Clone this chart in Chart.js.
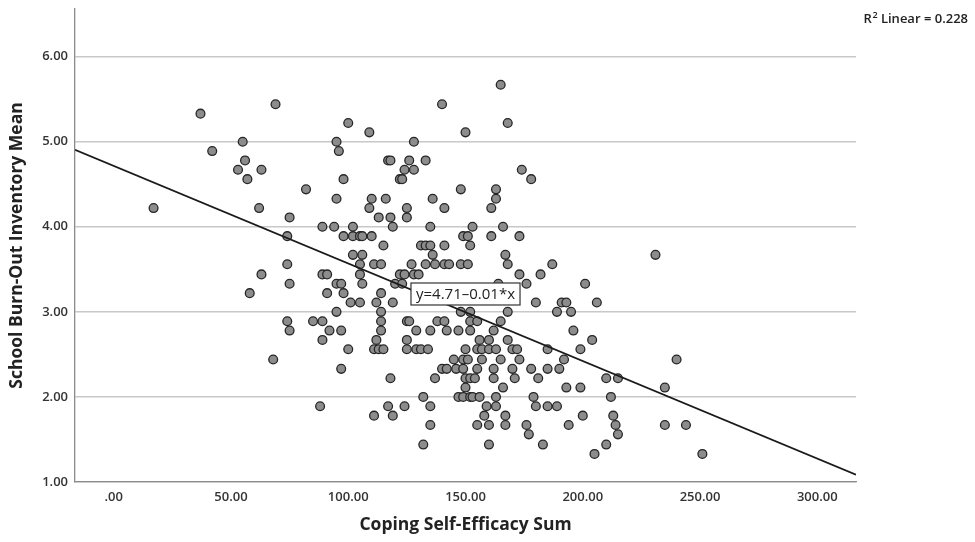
<!DOCTYPE html>
<html>
<head>
<meta charset="utf-8">
<script src="https://cdn.jsdelivr.net/npm/chart.js@4.4.1/dist/chart.umd.min.js"></script>
<style>
  html, body { margin: 0; padding: 0; background: #fff; }
  #wrap { width: 975px; height: 542px; }
</style>
</head>
<body>
<div id="wrap"><canvas id="chart"></canvas></div>
<script>
// burn-out mean levels (steps of 1/9) and the coping sums read at each level
const burnoutLevels = [5.67, 5.44, 5.33, 5.22, 5.11, 5.00, 4.89, 4.78, 4.67, 4.56, 4.44, 4.33, 4.22, 4.11, 4.00,
    3.89, 3.78, 3.67, 3.56, 3.44, 3.33, 3.22, 3.11, 3.00, 2.89, 2.78, 2.67, 2.56, 2.44, 2.33, 2.22, 2.11, 2.00,
    1.89, 1.78, 1.67, 1.56, 1.44, 1.33];
const copingByLevel = [
    [165],
    [69, 140],
    [37],
    [100, 168],
    [109, 150],
    [55, 95, 128],
    [42, 96],
    [56, 117, 118, 126, 133],
    [53, 63, 124, 128, 174],
    [57, 98, 122, 123, 178],
    [82, 148, 163],
    [95, 110, 116, 136, 163],
    [17, 62, 109, 125, 141, 161],
    [75, 113, 118, 125],
    [89, 94, 102, 119, 135, 153, 166],
    [74, 98, 102, 105, 106, 110, 149, 151, 161, 173],
    [115, 131, 133, 135, 141, 152],
    [102, 106, 136, 167, 231],
    [74, 105, 111, 114, 127, 133, 137, 141, 143, 148, 151, 168, 187],
    [63, 89, 91, 105, 122, 124, 128, 130, 173, 182],
    [75, 95, 97, 106, 120, 123, 164, 176, 201],
    [58, 91, 98, 114],
    [101, 105, 112, 119, 180, 191, 193, 206],
    [95, 114, 148, 152, 168, 189, 195],
    [74, 85, 89, 114, 125, 126, 138, 141, 152, 155, 165],
    [75, 92, 97, 114, 129, 135, 142, 147, 152, 162, 196],
    [89, 112, 125, 156, 160, 168, 204],
    [100, 111, 113, 115, 125, 129, 131, 134, 150, 155, 157, 160, 163, 170, 172, 185, 199],
    [68, 145, 149, 151, 157, 165, 173, 192, 240],
    [97, 140, 142, 146, 149, 155, 162, 170, 178, 185, 190],
    [118, 137, 150, 152, 154, 162, 171, 181, 210, 215],
    [150, 166, 193, 199, 235],
    [132, 147, 149, 152, 153, 156, 163, 179, 212],
    [88, 117, 124, 135, 159, 163, 180, 185, 189],
    [111, 119, 158, 167, 200, 213],
    [135, 155, 160, 167, 176, 194, 214, 235, 244],
    [177, 215],
    [132, 160, 183, 210],
    [205, 251]
];

// fit line end points, as drawn across the plot
const fitX = [-16.5, 316.5];
const fitY = [4.905, 1.086];

const xTicks = [0, 50, 100, 150, 200, 250, 300];
const yTicks = [1, 2, 3, 4, 5, 6];

const points = [];
burnoutLevels.forEach((lvl, i) => {
    copingByLevel[i].forEach(c => points.push({ x: c, y: lvl }));
});
const fitPoints = fitX.map((x, i) => ({ x: x, y: fitY[i] }));

const tickFont = { family: 'Open Sans', size: 13, weight: '600' };
const titleFont = { family: 'Open Sans', size: 17.5, weight: 'bold' };

const annotations = {
    id: 'annotations',
    afterDatasetsDraw(chart) {
        const { ctx, scales } = chart;
        // equation box on the fit line
        const cx = scales.x.getPixelForValue(150);
        const cy = scales.y.getPixelForValue(3.21);
        ctx.save();
        ctx.font = '500 15px "Open Sans"';
        const label = 'y=4.71\u20130.01*x';
        const w = ctx.measureText(label).width + 10;
        const h = 22;
        ctx.fillStyle = '#fff';
        ctx.fillRect(cx - w / 2, cy - h / 2, w, h);
        ctx.strokeStyle = '#333';
        ctx.lineWidth = 1.2;
        ctx.strokeRect(cx - w / 2, cy - h / 2, w, h);
        ctx.fillStyle = '#222';
        ctx.textAlign = 'center';
        ctx.textBaseline = 'middle';
        ctx.fillText(label, cx, cy + 1);
        ctx.restore();
    },
    afterDraw(chart) {
        const ctx = chart.ctx;
        ctx.save();
        ctx.fillStyle = '#222';
        ctx.textBaseline = 'middle';
        ctx.textAlign = 'right';
        ctx.font = '600 13px "Open Sans"';
        const rest = ' Linear = 0.228';
        ctx.fillText(rest, 968, 19);
        const restW = ctx.measureText(rest).width;
        ctx.font = '600 9px "Open Sans"';
        ctx.fillText('2', 968 - restW, 15);
        const supW = ctx.measureText('2').width;
        ctx.font = '600 13px "Open Sans"';
        ctx.fillText('R', 968 - restW - supW - 0.5, 19);
        ctx.restore();
    }
};

const config = {
    type: 'scatter',
    data: {
        datasets: [
            {
                data: points,
                pointRadius: 4.4,
                pointHoverRadius: 4.4,
                backgroundColor: '#8c8c8c',
                borderColor: '#262626',
                borderWidth: 1.3,
                order: 2
            },
            {
                data: fitPoints,
                showLine: true,
                pointRadius: 0,
                borderColor: '#1a1a1a',
                borderWidth: 1.8,
                order: 1
            }
        ]
    },
    options: {
        responsive: true,
        maintainAspectRatio: false,
        animation: false,
        layout: { padding: { left: 0, right: 119, top: 9, bottom: 0 } },
        plugins: {
            legend: { display: false },
            tooltip: { enabled: false }
        },
        scales: {
            x: {
                type: 'linear',
                min: -16.5,
                max: 316.5,
                afterBuildTicks: (scale) => { scale.ticks = xTicks.map(v => ({ value: v })); },
                afterFit: (scale) => { scale.height = 60; },
                grid: { display: false, drawTicks: false },
                border: { display: true, color: '#8a8a8a', width: 1.3 },
                ticks: {
                    padding: 7,
                    color: '#333',
                    font: tickFont,
                    maxRotation: 0,
                    callback: (v) => v === 0 ? '.00' : v.toFixed(2)
                },
                title: {
                    display: true,
                    text: 'Coping Self-Efficacy Sum',
                    color: '#222',
                    font: titleFont,
                    padding: { top: 0, bottom: 6 }
                }
            },
            y: {
                type: 'linear',
                min: 1,
                max: 6.56,
                afterBuildTicks: (scale) => { scale.ticks = yTicks.map(v => ({ value: v })); },
                afterFit: (scale) => { scale.width = 75; scale.paddingTop = 0; },
                grid: { color: '#c8c8c8', lineWidth: 1.4, drawTicks: false },
                border: { display: true, color: '#8a8a8a', width: 1.3 },
                ticks: {
                    padding: 7,
                    color: '#333',
                    font: tickFont,
                    callback: (v) => v.toFixed(2)
                },
                title: {
                    display: true,
                    text: 'School Burn-Out Inventory Mean',
                    color: '#222',
                    font: titleFont,
                    padding: { top: 7, bottom: 0 }
                }
            }
        }
    },
    plugins: [annotations]
};

new Chart(document.getElementById('chart'), config);
</script>
</body>
</html>
